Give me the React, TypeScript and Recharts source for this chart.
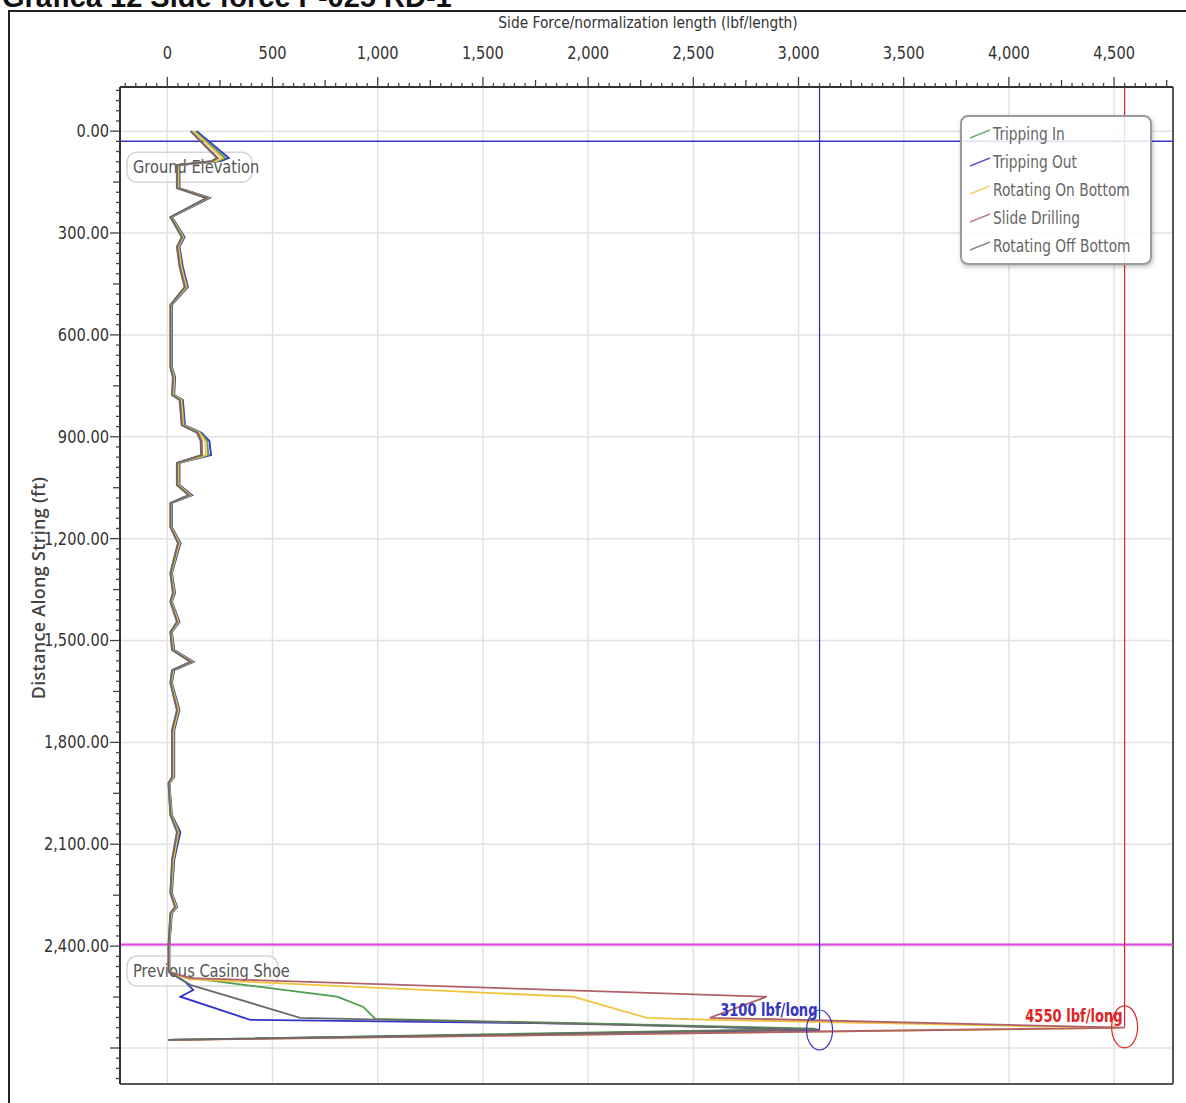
import React from "react";
import { ScatterChart, Scatter, XAxis, YAxis, ReferenceLine, ReferenceDot } from "recharts";

const FONT = "'DejaVu Sans', sans-serif";
const SX = 0.86; // horizontal squeeze to mimic the condensed face of the original

// depth (ft) grid shared by the upper part of every curve
const upperDepths = [
  0, 79, 88, 100, 168, 197, 253, 312, 341, 400, 459, 512, 595, 694, 724, 777, 792, 866, 888, 912,
  954, 977, 1042, 1072, 1095, 1166, 1213, 1301, 1360, 1386, 1445, 1475, 1528, 1563, 1587, 1625,
  1705, 1764, 1902, 1920, 2014, 2064, 2146, 2244, 2285, 2303, 2397, 2470,
];

const offBottomUpper = [
  110, 235, 210, 45, 45, 185, 14, 68, 45, 58, 82, 14, 14, 14, 26, 22, 58, 68, 140, 158,
  160, 45, 45, 100, 14, 14, 50, 14, 26, 14, 45, 14, 22, 110, 22, 14, 45, 22, 22, 5,
  14, 45, 22, 14, 36, 14, 5, 5,
];
const slideUpper = [
  112, 240, 214, 47, 47, 188, 15, 70, 47, 60, 84, 15, 15, 15, 27, 23, 60, 70, 145, 164,
  166, 47, 47, 103, 15, 15, 52, 15, 27, 15, 47, 15, 23, 113, 23, 15, 47, 23, 23, 6,
  15, 47, 23, 15, 37, 15, 6, 6,
];
const onBottomUpper = [
  125, 262, 232, 52, 52, 192, 18, 75, 52, 66, 90, 18, 18, 18, 32, 28, 66, 76, 152, 180,
  184, 52, 52, 108, 18, 18, 57, 18, 32, 18, 52, 18, 28, 117, 28, 18, 52, 28, 28, 8,
  18, 52, 28, 18, 42, 18, 8, 8,
];
const trippingInUpper = [
  132, 275, 242, 55, 55, 196, 20, 78, 55, 70, 94, 20, 20, 20, 34, 30, 70, 80, 156, 190,
  195, 55, 55, 112, 20, 20, 60, 20, 34, 20, 55, 20, 30, 120, 30, 20, 55, 30, 30, 9,
  20, 55, 30, 20, 44, 20, 9, 9,
];
const trippingOutUpper = [
  140, 292, 255, 58, 58, 202, 22, 82, 58, 74, 98, 22, 22, 22, 37, 33, 74, 84, 162, 200,
  208, 58, 58, 118, 22, 22, 63, 22, 37, 22, 58, 22, 33, 125, 33, 22, 58, 33, 33, 10,
  22, 62, 33, 22, 47, 22, 10, 10,
];

// below the previous casing shoe
const trippingInTailDepths = [2476, 2491, 2549, 2579, 2614, 2643, 2676];
const trippingInTailForces = [8, 76, 807, 931, 988, 3080, 5];
const trippingOutTailDepths = [2476, 2505, 2529, 2549, 2617, 2629, 2647, 2676];
const trippingOutTailForces = [8, 85, 123, 62, 394, 2056, 3100, 5];
const onBottomTailDepths = [2476, 2497, 2549, 2611, 2617, 2641, 2676];
const onBottomTailForces = [8, 100, 1928, 2279, 2592, 4520, 5];
const slideTailDepths = [2476, 2494, 2549, 2611, 2640, 2676];
const slideTailForces = [8, 109, 2849, 2578, 4550, 5];
const offBottomTailDepths = [2476, 2514, 2611, 2645, 2676];
const offBottomTailForces = [8, 109, 631, 3090, 5];

const forceLabels = [0, 500, 1000, 1500, 2000, 2500, 3000, 3500, 4000, 4500];
const depthLabels = [0, 300, 600, 900, 1200, 1500, 1800, 2100, 2400];
const depthGrid = [0, 300, 600, 900, 1200, 1500, 1800, 2100, 2400, 2700];

const forceTicks = Array.from({ length: 100 }, (_, i) => -200 + i * 50);
const depthTicks = Array.from({ length: 98 }, (_, i) => -120 + i * 30);

function points(upper: number[], tailDepths: number[], tailForces: number[]) {
  return [
    ...upperDepths.map((d, i) => ({ depth: d, force: upper[i] })),
    ...tailDepths.map((d, i) => ({ depth: d, force: tailForces[i] })),
  ];
}

const series = [
  { name: "Tripping In", color: "#4f9d4f", data: points(trippingInUpper, trippingInTailDepths, trippingInTailForces) },
  { name: "Tripping Out", color: "#3333cc", data: points(trippingOutUpper, trippingOutTailDepths, trippingOutTailForces) },
  { name: "Rotating On Bottom", color: "#f2c43c", data: points(onBottomUpper, onBottomTailDepths, onBottomTailForces) },
  { name: "Slide Drilling", color: "#b0626a", data: points(slideUpper, slideTailDepths, slideTailForces) },
  { name: "Rotating Off Bottom", color: "#6b6b6b", data: points(offBottomUpper, offBottomTailDepths, offBottomTailForces) },
];
const drawOrder = [1, 0, 2, 3, 4];

function SqText({ x, y, children, anchor = "start", size = 17, fill = "#333", weight = "normal", sx = SX }: any) {
  return (
    <text
      transform={`translate(${x} ${y}) scale(${sx} 1)`}
      textAnchor={anchor}
      dominantBaseline="central"
      fontFamily={FONT}
      fontSize={size}
      fontWeight={weight}
      fill={fill}
    >
      {children}
    </text>
  );
}

function ForceTick({ x, y, payload }: any) {
  const v = payload.value as number;
  const major = v % 500 === 0;
  const len = major ? 10 : v % 250 === 0 ? 7 : 4;
  return (
    <g>
      <line x1={x} x2={x} y1={y} y2={y - len} stroke="#444" strokeWidth={1.3} />
      {major && (
        <SqText x={x} y={y - 34} anchor="middle">
          {v.toLocaleString("en-US")}
        </SqText>
      )}
    </g>
  );
}

function DepthTick({ x, y, payload }: any) {
  const v = payload.value as number;
  const major = v % 300 === 0;
  const len = major ? 10 : v % 150 === 0 ? 7 : 4;
  return (
    <g>
      <line x1={x - len} x2={x} y1={y} y2={y} stroke="#444" strokeWidth={1.3} />
      {depthLabels.includes(v) && (
        <SqText x={x - 11} y={y} anchor="end">
          {v.toLocaleString("en-US", { minimumFractionDigits: 2, maximumFractionDigits: 2 })}
        </SqText>
      )}
    </g>
  );
}

function boxLabel(text: string, width: number) {
  return (p: any) => (
    <g>
      <rect x={p.cx + 7} y={p.cy - 15} width={width} height={30} rx={10} fill="rgba(255,255,255,0.5)" stroke="#d6d6d6" strokeWidth={1.5} />
      <SqText x={p.cx + 13} y={p.cy} fill="#555">
        {text}
      </SqText>
    </g>
  );
}

function limitMark(text: string, color: string, dy: number, ry: number) {
  return (p: any) => (
    <g>
      <ellipse cx={p.cx} cy={p.cy} rx={13} ry={ry} fill="none" stroke={color} strokeWidth={1.2} />
      <SqText x={p.cx - 2} y={p.cy + dy} anchor="end" weight="bold" fill={color} sx={0.77}>
        {text}
      </SqText>
    </g>
  );
}

function LegendBox() {
  return (
    <div
      style={{
        position: "absolute",
        left: 960,
        top: 115,
        width: 188,
        height: 146,
        border: "2px solid #9a9a9a",
        borderRadius: 8,
        background: "rgba(255,255,255,0.85)",
        boxShadow: "1px 2px 4px rgba(0,0,0,0.25)",
        fontFamily: FONT,
        fontSize: 17,
        color: "#666",
      }}
    >
      {series.map((s, i) => (
        <div key={s.name} style={{ position: "absolute", left: 6, top: 5 + i * 28, height: 24, display: "flex", alignItems: "center", whiteSpace: "nowrap" }}>
          <svg width={24} height={12} style={{ marginRight: 1 }}>
            <line x1={2} y1={10} x2={22} y2={2} stroke={s.color} strokeWidth={1.5} opacity={0.8} />
          </svg>
          <span style={{ display: "inline-block", transform: "scaleX(0.81)", transformOrigin: "left center" }}>{s.name}</span>
        </div>
      ))}
    </div>
  );
}

export default function App() {
  return (
    <div style={{ position: "absolute", left: 0, top: 0, width: 1186, height: 1103, overflow: "hidden", background: "#fff" }}>
      <div
        style={{
          position: "absolute",
          left: 2,
          top: -17,
          fontFamily: "'Liberation Sans', Arial, sans-serif",
          fontWeight: "bold",
          fontSize: 29,
          lineHeight: "29px",
          color: "#111",
          whiteSpace: "nowrap",
        }}
      >
        Gráfica 12 Side force P-025 RD-1
      </div>
      <div style={{ position: "absolute", left: 8, top: 10, width: 1300, height: 1200, borderTop: "2px solid #222", borderLeft: "2px solid #222" }} />
      <div style={{ position: "absolute", left: 0, top: 0 }}>
        <ScatterChart width={1186} height={1103} margin={{ top: 27, right: 13, bottom: 19, left: 20 }}>
          {forceLabels.map((v) => (
            <ReferenceLine key={"gx" + v} x={v} stroke="#e2e2e2" strokeWidth={1.5} />
          ))}
          {depthGrid.map((v) => (
            <ReferenceLine key={"gy" + v} y={v} stroke="#e2e2e2" strokeWidth={1.5} />
          ))}
          <XAxis
            type="number"
            dataKey="force"
            orientation="top"
            domain={[-225, 4780]}
            ticks={forceTicks}
            interval={0}
            height={60}
            tickSize={0}
            tickMargin={0}
            tick={<ForceTick />}
            axisLine={{ stroke: "#333", strokeWidth: 2 }}
            allowDataOverflow
          />
          <YAxis
            type="number"
            dataKey="depth"
            reversed
            domain={[-130, 2806]}
            ticks={depthTicks}
            interval={0}
            width={100}
            tickSize={0}
            tickMargin={0}
            tick={<DepthTick />}
            axisLine={{ stroke: "#333", strokeWidth: 2 }}
            allowDataOverflow
          />
          <ReferenceLine x={4780} stroke="#555" strokeWidth={2} ifOverflow="visible" />
          <ReferenceLine y={2806} stroke="#555" strokeWidth={2} ifOverflow="visible" />
          <ReferenceDot x={-225} y={106} ifOverflow="visible" shape={boxLabel("Ground Elevation", 125)} />
          <ReferenceDot x={-225} y={2473} ifOverflow="visible" shape={boxLabel("Previous Casing Shoe", 151)} />
          <ReferenceLine y={30} stroke="#3535c0" strokeWidth={1.5} />
          <ReferenceLine y={2395} stroke="#e040e0" strokeWidth={2} />
          <ReferenceLine
            segment={[{ x: 3100, y: -130 }, { x: 3100, y: 2647 }]}
            stroke="#2a2ab8"
            strokeWidth={1.2}
            ifOverflow="visible"
          />
          <ReferenceLine
            segment={[{ x: 4550, y: -130 }, { x: 4550, y: 2638 }]}
            stroke="#e02424"
            strokeWidth={1.2}
            ifOverflow="visible"
          />
          {drawOrder.map((i) => {
            const s = series[i];
            return (
              <Scatter
                key={s.name}
                name={s.name}
                data={s.data}
                line={{ stroke: s.color, strokeWidth: 1.8 }}
                lineType="joint"
                shape={() => <g />}
                isAnimationActive={false}
              />
            );
          })}
          <ReferenceDot x={3100} y={2647} ifOverflow="visible" shape={limitMark("3100 lbf/long", "#3535c0", -20, 20)} />
          <ReferenceDot x={4550} y={2638} ifOverflow="visible" shape={limitMark("4550 lbf/long", "#e02424", -11, 21)} />
        </ScatterChart>
      </div>
      <div
        style={{
          position: "absolute",
          left: 648,
          top: 22,
          transform: `translate(-50%, -50%) scaleX(${SX})`,
          fontFamily: FONT,
          fontSize: 16,
          color: "#333",
          whiteSpace: "nowrap",
        }}
      >
        Side Force/normalization length (lbf/length)
      </div>
      <div
        style={{
          position: "absolute",
          left: 38,
          top: 588,
          transform: "translate(-50%, -50%) rotate(-90deg)",
          fontFamily: "'Open Sans', sans-serif",
          fontWeight: 600,
          fontSize: 18,
          letterSpacing: 0.3,
          color: "#444",
          whiteSpace: "nowrap",
        }}
      >
        Distance Along String (ft)
      </div>
      <LegendBox />
    </div>
  );
}
